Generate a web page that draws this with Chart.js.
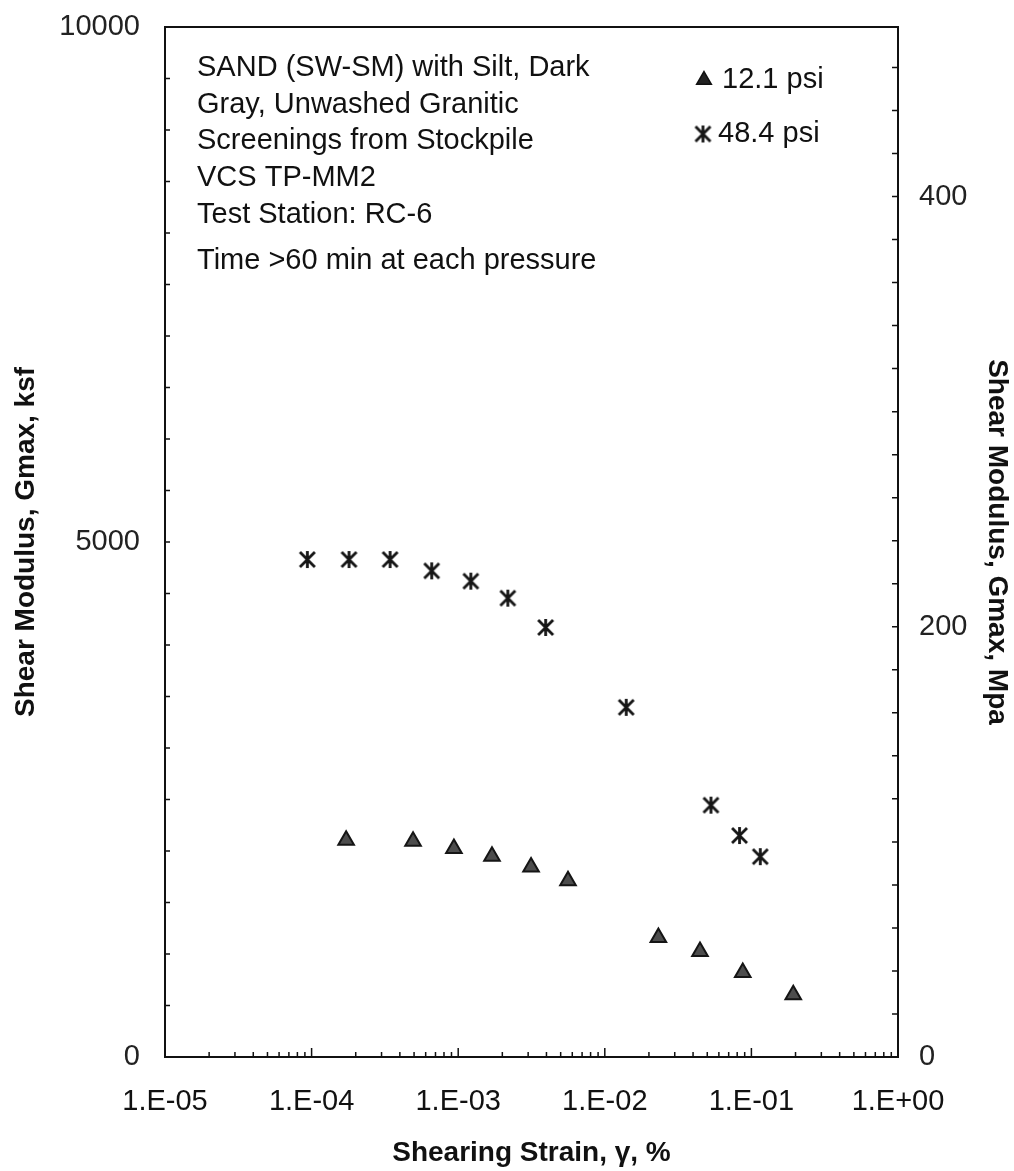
<!DOCTYPE html>
<html>
<head>
<meta charset="utf-8">
<title>Shear Modulus vs Shearing Strain</title>
<script src="https://cdn.jsdelivr.net/npm/chart.js@4.4.1/dist/chart.umd.min.js"></script>
<style>
  html, body { margin: 0; padding: 0; background: #fff; }
  #chart { display: block; }
</style>
</head>
<body>
<canvas id="chart" width="1014" height="1171"></canvas>
<script>
// Shearing strain (%) and Gmax (ksf)
const strain484 = [9.35e-5, 1.80e-4, 3.43e-4, 6.6e-4, 1.22e-3, 2.18e-3, 3.95e-3, 1.40e-2, 5.3e-2, 8.3e-2, 0.115];
const gmax484 = [4830, 4830, 4830, 4720, 4620, 4455, 4170, 3395, 2445, 2150, 1945];

const strain121 = [1.72e-4, 4.92e-4, 9.35e-4, 1.70e-3, 3.14e-3, 5.61e-3, 2.32e-2, 4.46e-2, 8.73e-2, 0.193];
const gmax121 = [2105, 2095, 2025, 1950, 1845, 1710, 1160, 1025, 820, 605];

// Axis ticks and labels
const decadeTicks = [1e-5, 1e-4, 1e-3, 1e-2, 1e-1, 1];
const decadeLabels = ['1.E-05', '1.E-04', '1.E-03', '1.E-02', '1.E-01', '1.E+00'];
const ksfTicks = [0, 5000, 10000];
const mpaTicks = [0, 200, 400];
const KSF_TO_MPA = 0.04788;

// Text box in the upper left of the plot
const noteLines = [
    'SAND (SW-SM) with Silt, Dark',
    'Gray, Unwashed Granitic',
    'Screenings from Stockpile',
    'VCS TP-MM2',
    'Test Station: RC-6',
    'Time >60 min at each pressure'
];
const legendLabels = ['12.1 psi', '48.4 psi'];

const FONT = "'Liberation Sans', Arial, sans-serif";
const INK = '#111';

Chart.defaults.font.family = FONT;
Chart.defaults.color = INK;

/**
 * Asterisk marker for the 48.4 psi series: a vertical bar crossed by an X
 */
function makeAsterisk(size, lineWidth, color) {
    const c = document.createElement('canvas');
    c.width = size;
    c.height = size;
    const g = c.getContext('2d');
    const h = size / 2 - 1;
    const d = h * 0.88;
    g.strokeStyle = color;
    g.lineWidth = lineWidth;
    g.translate(size / 2, size / 2);
    g.beginPath();
    g.moveTo(0, -h);
    g.lineTo(0, h);
    g.moveTo(-d, -d);
    g.lineTo(d, d);
    g.moveTo(d, -d);
    g.lineTo(-d, d);
    g.stroke();
    return c;
}

const asterisk = makeAsterisk(19, 2.8, '#161616');

function toPoints(xs, ys) {
    return xs.map((x, i) => ({ x: x, y: ys[i] }));
}

function drawTriangle(ctx, x, y, r) {
    ctx.beginPath();
    for (let k = 0; k < 3; k++) {
        const a = k * 2 * Math.PI / 3;
        const px = x + Math.sin(a) * r;
        const py = y - Math.cos(a) * r;
        if (k === 0) ctx.moveTo(px, py); else ctx.lineTo(px, py);
    }
    ctx.closePath();
    ctx.fill();
    ctx.stroke();
}

// Vertical axes: fixed width, no extra room for the end labels
function fixVerticalAxis(width) {
    return (scale) => {
        scale.width = width;
        scale.paddingTop = 0;
        scale.paddingBottom = 0;
    };
}

// Inward minor ticks on all axes plus the top border line
const frameTicksPlugin = {
    id: 'frameTicks',
    afterDraw(chart) {
        const { ctx, chartArea: a, scales } = chart;
        ctx.save();
        ctx.strokeStyle = INK;

        ctx.lineWidth = 2;
        ctx.beginPath();
        ctx.moveTo(a.left - 1, a.top);
        ctx.lineTo(a.right + 1, a.top);
        ctx.stroke();

        ctx.lineWidth = 1.5;
        ctx.beginPath();
        // log x ticks: 1..9 per decade
        for (let d = -5; d < 0; d++) {
            for (let m = 1; m <= 9; m++) {
                const px = scales.x.getPixelForValue(m * Math.pow(10, d));
                const len = m === 1 ? 9 : 5;
                ctx.moveTo(px, a.bottom);
                ctx.lineTo(px, a.bottom - len);
            }
        }
        // left axis every 500 ksf
        for (let v = 500; v < 10000; v += 500) {
            const py = scales.y.getPixelForValue(v);
            ctx.moveTo(a.left, py);
            ctx.lineTo(a.left + 5, py);
        }
        // right axis every 20 MPa
        for (let v = 20; v < 10000 * KSF_TO_MPA; v += 20) {
            const py = scales.y2.getPixelForValue(v);
            ctx.moveTo(a.right, py);
            ctx.lineTo(a.right - 6, py);
        }
        ctx.stroke();
        ctx.restore();
    }
};

// Sample description and the legend, inside the plot
const notesPlugin = {
    id: 'notes',
    afterDraw(chart) {
        const { ctx, chartArea: a } = chart;
        ctx.save();
        ctx.fillStyle = INK;
        ctx.font = '29px ' + FONT;
        ctx.textBaseline = 'alphabetic';
        ctx.textAlign = 'left';

        const baselines = [49, 86, 122, 159, 196, 242];
        noteLines.forEach((line, i) => {
            ctx.fillText(line, a.left + 32, a.top + baselines[i]);
        });

        // legend
        ctx.fillText(legendLabels[0], 722, a.top + 61);
        ctx.fillText(legendLabels[1], 718, a.top + 115);
        ctx.fillStyle = '#222';
        ctx.strokeStyle = INK;
        ctx.lineWidth = 1.5;
        drawTriangle(ctx, 704, a.top + 53, 8.5);
        ctx.drawImage(asterisk, 703 - asterisk.width / 2, a.top + 107 - asterisk.height / 2);
        ctx.restore();
    }
};

new Chart(document.getElementById('chart'), {
    type: 'scatter',
    data: {
        datasets: [
            {
                label: legendLabels[0],
                data: toPoints(strain121, gmax121),
                pointStyle: 'triangle',
                pointRadius: 9,
                backgroundColor: '#4d4d4d',
                borderColor: '#151515',
                borderWidth: 2,
                xAxisID: 'x',
                yAxisID: 'y'
            },
            {
                label: legendLabels[1],
                data: toPoints(strain484, gmax484),
                pointStyle: asterisk,
                pointRadius: 10,
                xAxisID: 'x',
                yAxisID: 'y'
            }
        ]
    },
    options: {
        responsive: false,
        animation: false,
        events: [],
        layout: { padding: { top: 27, left: 0, right: 0, bottom: 0 } },
        plugins: {
            legend: { display: false },
            tooltip: { enabled: false }
        },
        scales: {
            x: {
                type: 'logarithmic',
                position: 'bottom',
                min: 1e-5,
                max: 1,
                grid: { display: false, drawTicks: false },
                border: { display: true, color: INK, width: 2 },
                afterBuildTicks: (scale) => {
                    scale.ticks = decadeTicks.map(v => ({ value: v }));
                },
                ticks: {
                    autoSkip: false,
                    maxRotation: 0,
                    padding: 28,
                    color: INK,
                    font: { size: 29 },
                    callback: (value, index) => decadeLabels[index]
                },
                title: {
                    display: true,
                    text: 'Shearing Strain, γ, %',
                    color: INK,
                    font: { size: 28, weight: 'bold' },
                    padding: { top: 0, bottom: 1 }
                },
                afterFit: (scale) => {
                    scale.height = 114;
                    scale.paddingLeft = 0;
                    scale.paddingRight = 0;
                }
            },
            y: {
                type: 'linear',
                position: 'left',
                min: 0,
                max: 10000,
                grid: { display: false, drawTicks: false },
                border: { display: true, color: INK, width: 2 },
                afterBuildTicks: (scale) => {
                    scale.ticks = ksfTicks.map(v => ({ value: v }));
                },
                ticks: {
                    padding: 25,
                    color: '#222',
                    font: { size: 29 },
                    callback: (value) => String(value)
                },
                title: {
                    display: true,
                    text: 'Shear Modulus, Gmax, ksf',
                    color: INK,
                    font: { size: 28, weight: 'bold' },
                    padding: { top: 9, bottom: 0 }
                },
                afterFit: fixVerticalAxis(165)
            },
            y2: {
                type: 'linear',
                position: 'right',
                min: 0,
                max: 10000 * KSF_TO_MPA,
                grid: { display: false, drawTicks: false },
                border: { display: true, color: INK, width: 2 },
                afterBuildTicks: (scale) => {
                    scale.ticks = mpaTicks.map(v => ({ value: v }));
                },
                ticks: {
                    padding: 21,
                    color: '#222',
                    font: { size: 29 },
                    callback: (value) => String(value)
                },
                title: {
                    display: true,
                    text: 'Shear Modulus, Gmax, Mpa',
                    color: INK,
                    font: { size: 28, weight: 'bold' },
                    padding: { top: 0, bottom: 0 }
                },
                afterFit: fixVerticalAxis(116)
            }
        }
    },
    plugins: [frameTicksPlugin, notesPlugin]
});
</script>
</body>
</html>
